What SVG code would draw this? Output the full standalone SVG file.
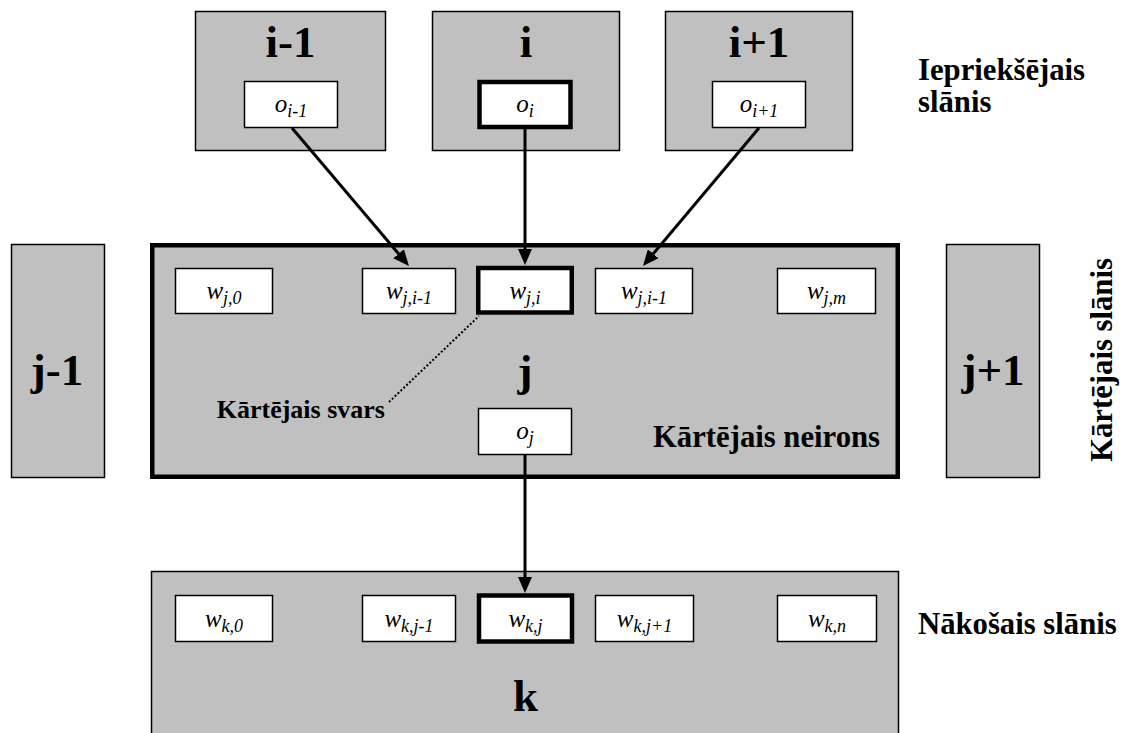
<svg xmlns="http://www.w3.org/2000/svg" width="1125" height="733" viewBox="0 0 1125 733">
  <style>
    text { font-family: Liberation Serif, Tinos, Noto Serif, Times New Roman, Times, serif; fill: #000; }
    .layer { fill: #c0c0c0; stroke: #000; stroke-width: 1.5; }
    .neuron { fill: #c0c0c0; stroke: #000; stroke-width: 4.5; }
    .cell { fill: #fff; stroke: #000; stroke-width: 1.5; }
    .cell-hi { fill: #fff; stroke: #000; stroke-width: 4.5; }
    .big { font-weight: bold; font-size: 45px; text-anchor: middle; }
    .lbl { font-weight: bold; font-size: 30.7px; }
    .note { font-weight: bold; font-size: 26px; }
    .math { font-style: italic; font-size: 25px; text-anchor: middle; }
    .sub { font-size: 18px; }
    .link { stroke: #000; stroke-width: 3; fill: none; }
    .hint { stroke: #000; stroke-width: 2; stroke-dasharray: 2 2; fill: none; }
  </style>
  <defs>
    <marker id="head" markerUnits="userSpaceOnUse" markerWidth="16" markerHeight="14" refX="8" refY="7" orient="auto">
      <path d="M0,0 L16,7 L0,14 z" fill="#000"/>
    </marker>
  </defs>

  <!-- previous layer -->
  <g id="node-i-1">
    <rect class="layer" x="195.5" y="11.5" width="190" height="139"/>
    <text class="big" x="290.5" y="57">i-1</text>
    <rect class="cell" x="244.5" y="81.5" width="93" height="46"/>
    <text class="math" x="291" y="112">o<tspan class="sub" dy="5">i-1</tspan></text>
  </g>
  <g id="node-i">
    <rect class="layer" x="432.5" y="11.5" width="187" height="139"/>
    <text class="big" x="526" y="57">i</text>
    <rect class="cell-hi" x="479.5" y="82" width="91" height="45"/>
    <text class="math" x="525" y="112">o<tspan class="sub" dy="5">i</tspan></text>
  </g>
  <g id="node-i+1">
    <rect class="layer" x="665.5" y="11.5" width="187" height="139"/>
    <text class="big" x="759" y="57">i+1</text>
    <rect class="cell" x="712.5" y="81.5" width="93" height="46"/>
    <text class="math" x="759" y="112">o<tspan class="sub" dy="5">i+1</tspan></text>
  </g>
  <g id="label-previous">
    <text class="lbl" x="918" y="80">Iepriekšējais</text>
    <text class="lbl" x="918" y="112">slānis</text>
  </g>

  <!-- current layer -->
  <g id="node-j-1">
    <rect class="layer" x="11.5" y="244.5" width="93" height="233"/>
    <text class="big" x="57" y="385">j-1</text>
  </g>
  <g id="node-j+1">
    <rect class="layer" x="946.5" y="244.5" width="93" height="233"/>
    <text class="big" x="993" y="385">j+1</text>
  </g>
  <g id="node-j">
    <rect class="neuron" x="152.25" y="245.25" width="745.5" height="231.5"/>
    <rect class="cell" x="175.5" y="268.5" width="97" height="45"/>
    <text class="math" x="224" y="299">w<tspan class="sub" dy="5">j,0</tspan></text>
    <rect class="cell" x="362.5" y="268.5" width="93" height="45"/>
    <text class="math" x="409" y="299">w<tspan class="sub" dy="5">j,i-1</tspan></text>
    <rect class="cell-hi" x="478.25" y="268" width="93.5" height="44.5"/>
    <text class="math" x="525" y="299">w<tspan class="sub" dy="5">j,i</tspan></text>
    <rect class="cell" x="595.5" y="268.5" width="97" height="45"/>
    <text class="math" x="644" y="299">w<tspan class="sub" dy="5">j,i-1</tspan></text>
    <rect class="cell" x="777.5" y="268.5" width="98" height="45"/>
    <text class="math" x="826.5" y="299">w<tspan class="sub" dy="5">j,m</tspan></text>
    <text class="big" x="525" y="386">j</text>
    <rect class="cell" x="478.5" y="408.5" width="93" height="46"/>
    <text class="math" x="525" y="439">o<tspan class="sub" dy="5">j</tspan></text>
    <text class="lbl" x="880" y="446.5" text-anchor="end">Kārtējais neirons</text>
  </g>
  <g id="note-weight">
    <text class="note" x="385" y="418" text-anchor="end">Kārtējais svars</text>
    <path class="hint" d="M389,402 L479,316"/>
  </g>
  <g id="label-current">
    <text class="lbl" transform="translate(1112,360) rotate(-90)" text-anchor="middle">Kārtējais slānis</text>
  </g>

  <!-- next layer -->
  <g id="node-k">
    <rect class="layer" x="151.5" y="571.5" width="747" height="175"/>
    <rect class="cell" x="175.5" y="595.5" width="97" height="46"/>
    <text class="math" x="224" y="627">w<tspan class="sub" dy="5">k,0</tspan></text>
    <rect class="cell" x="362.5" y="595.5" width="93" height="46"/>
    <text class="math" x="409" y="627">w<tspan class="sub" dy="5">k,j-1</tspan></text>
    <rect class="cell-hi" x="479" y="595.5" width="93" height="46"/>
    <text class="math" x="525.5" y="627">w<tspan class="sub" dy="5">k,j</tspan></text>
    <rect class="cell" x="595.5" y="595.5" width="98" height="46"/>
    <text class="math" x="644.5" y="627">w<tspan class="sub" dy="5">k,j+1</tspan></text>
    <rect class="cell" x="777.5" y="595.5" width="99" height="46"/>
    <text class="math" x="827" y="627">w<tspan class="sub" dy="5">k,n</tspan></text>
    <text class="big" x="525.5" y="711">k</text>
  </g>
  <g id="label-next">
    <text class="lbl" x="918" y="634">Nākošais slānis</text>
  </g>

  <!-- connectors -->
  <g id="connectors">
    <path class="link" d="M292,128 L403.8,259.9" marker-end="url(#head)"/>
    <path class="link" d="M525,129 L525,257" marker-end="url(#head)"/>
    <path class="link" d="M759,128 L648.1,259.9" marker-end="url(#head)"/>
    <path class="link" d="M525,455 L525,585" marker-end="url(#head)"/>
  </g>
</svg>
